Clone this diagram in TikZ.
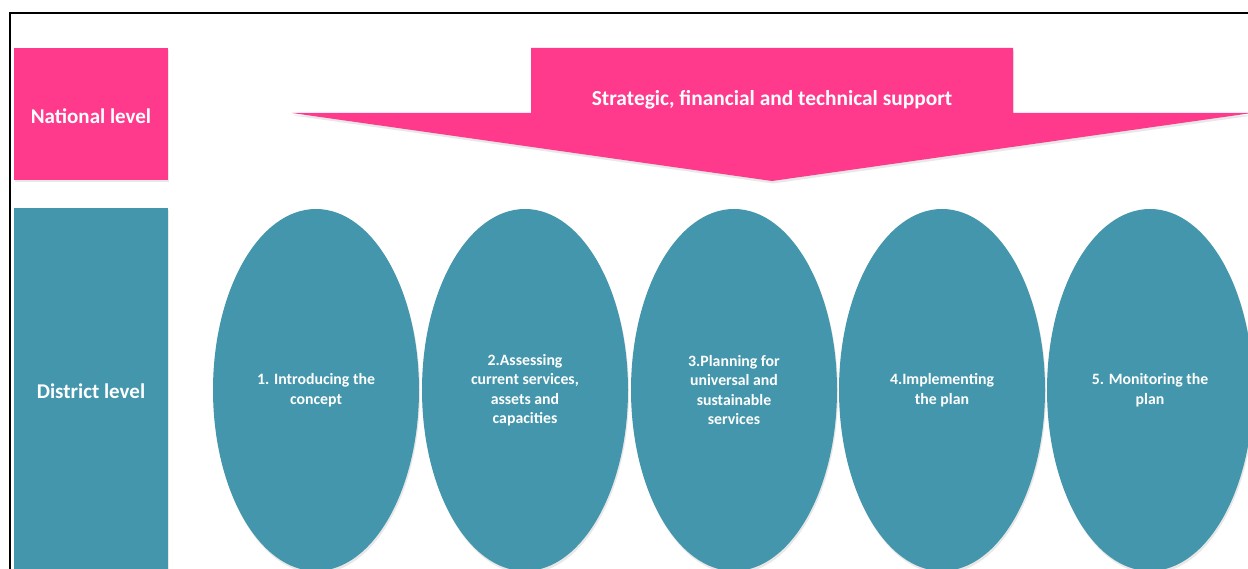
\documentclass[tikz,border=0pt]{standalone}
\usepackage{fontspec}
\setmainfont{Carlito}
\usetikzlibrary{shapes.geometric,shadows}
\definecolor{natpink}{HTML}{FF3A8C}
\definecolor{distteal}{HTML}{4396AB}
\tikzset{
  softshadow/.style={drop shadow={opacity=0.18, shadow xshift=1pt, shadow yshift=-2.5pt}},
  labelfont/.style={text=white, font=\bfseries\fontsize{21}{25}\selectfont},
  levelbox/.style={draw=none, inner sep=0pt, softshadow},
  stage/.style={ellipse, fill=distteal, draw=none, inner sep=0pt,
    minimum width=206pt, minimum height=362pt, text=white, align=center,
    font=\bfseries\fontsize{15.8}{19.5}\selectfont, softshadow},
  support/.style={fill=natpink, draw=none, softshadow},
  frameline/.style={line width=2pt, black}
}
\begin{document}
\begin{tikzpicture}[x=1pt, y=-1pt]
  % page area, pixel-like units with y pointing down
  \clip (0,0) rectangle (1248,569);
  \fill[white] (0,0) rectangle (1248,569);

  % outer frame (top and left edges)
  \coordinate (ftl) at (10,13);
  \coordinate (ftr) at (1260,13);
  \coordinate (fbl) at (10,580);
  \draw[frameline] (ftr) -- (ftl) -- (fbl);

  % level labels on the left
  \node[levelbox, fill=natpink, minimum width=154pt, minimum height=132pt] (national) at (91,114) {};
  \node[labelfont] (nationallabel) at (91,116) {National level};
  \node[levelbox, fill=distteal, minimum width=154pt, minimum height=372pt] (district) at (91,394) {};
  \node[labelfont] (districtlabel) at (91,391) {District level};

  % downward support arrow
  \path[support] (531,48) -- (1013,48) -- (1013,113) -- (1252,113) -- (772,181) -- (292,113) -- (531,113) -- cycle;
  \node[labelfont, font=\bfseries\fontsize{21.4}{25}\selectfont] (supportlabel) at (772,100) {Strategic, financial and technical support};

  % the five district stages
  \node[stage] (s1) at (316,390) {1. Introducing the\\concept};
  \node[stage] (s2) at (525,390) {2.Assessing\\current services,\\assets and\\capacities};
  \node[stage] (s3) at (734,390) {3.Planning for\\universal and\\sustainable\\services};
  \node[stage] (s4) at (942,390) {4.Implementing\\the plan};
  \node[stage] (s5) at (1150,390) {5. Monitoring the\\plan};
\end{tikzpicture}
\end{document}
